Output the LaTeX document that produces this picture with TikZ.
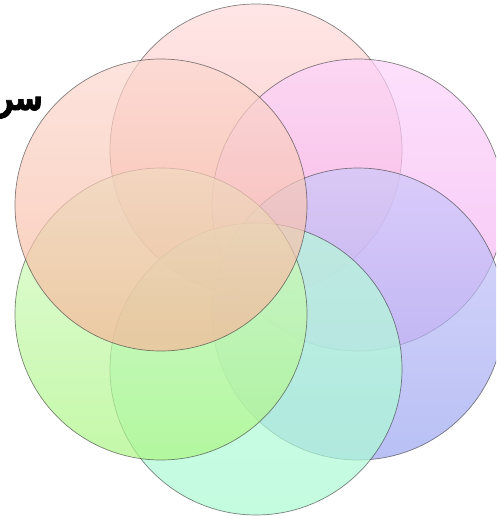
\documentclass[tikz,border=0pt]{standalone}
\usepackage{fontspec}
\TeXXeTstate=1
\newfontfamily\arabicheavy[Script=Arabic, FakeBold=2]{DejaVu Sans Bold}
\tikzset{
  petal/.style={circle, minimum size=292pt, inner sep=0pt, draw=black!80, draw opacity=0.6, line width=0.7pt, fill opacity=0.7},
}
\begin{document}
\begin{tikzpicture}[x=1pt,y=-1pt]
\useasboundingbox (0,0) rectangle (496,516);
\clip (0,0) rectangle (496,516);
\node[anchor=base east, inner sep=0pt, font=\arabicheavy\fontsize{36}{36}\selectfont] (title) at (43,110) {\scalebox{0.78}[1]{\beginR سر\endR}};
\node[petal, top color={rgb,255:red,255;green,219;blue,219}, bottom color={rgb,255:red,251;green,176;blue,176}] (ctop) at (256,150) {};
\node[petal, top color={rgb,255:red,252;green,211;blue,251}, bottom color={rgb,255:red,242;green,171;blue,240}] (cur) at (358,205) {};
\node[petal, top color={rgb,255:red,205;green,200;blue,250}, bottom color={rgb,255:red,154;green,165;blue,240}] (clr) at (358,314) {};
\node[petal, top color={rgb,255:red,182;green,251;blue,219}, bottom color={rgb,255:red,171;green,251;blue,211}] (cbot) at (256,369) {};
\node[petal, top color={rgb,255:red,219;green,251;blue,205}, bottom color={rgb,255:red,171;green,245;blue,131}] (cll) at (161,314) {};
\node[petal, top color={rgb,255:red,252;green,216;blue,208}, bottom color={rgb,255:red,246;green,182;blue,152}] (cul) at (161,205) {};
\end{tikzpicture}
\end{document}
